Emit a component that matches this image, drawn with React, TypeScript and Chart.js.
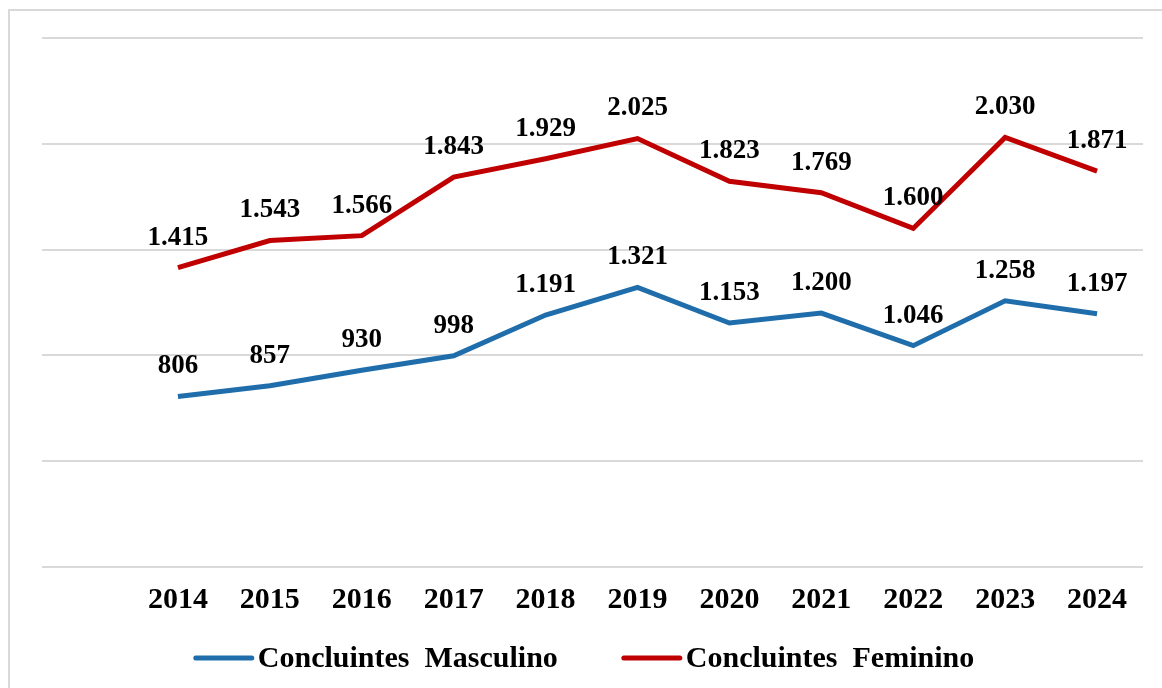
import React, { useEffect, useRef } from "react";
import { Chart, registerables } from "chart.js";

Chart.register(...registerables);

const years: string[] = ["2014", "2015", "2016", "2017", "2018", "2019", "2020", "2021", "2022", "2023", "2024"];
const masculino: number[] = [806, 857, 930, 998, 1191, 1321, 1153, 1200, 1046, 1258, 1197];
const feminino: number[] = [1415, 1543, 1566, 1843, 1929, 2025, 1823, 1769, 1600, 2030, 1871];
const seriesNames: string[] = ["Concluintes  Masculino", "Concluintes  Feminino"];
const seriesColors: string[] = ["#1F6EAB", "#C00000"];

const FONT = "'Liberation Serif', 'Times New Roman', serif";

function fmt(v: number): string {
  return String(Math.round(v)).replace(/\B(?=(\d{3})+(?!\d))/g, ".");
}

const dataLabelPlugin = {
  id: "dataLabels",
  afterDatasetsDraw(chart: any) {
    const ctx = chart.ctx;
    ctx.save();
    ctx.font = `bold 27px ${FONT}`;
    ctx.fillStyle = "#000000";
    ctx.textAlign = "center";
    ctx.textBaseline = "middle";
    chart.data.datasets.forEach((ds: any, di: number) => {
      const meta = chart.getDatasetMeta(di);
      meta.data.forEach((pt: any, i: number) => {
        ctx.fillText(fmt(ds.data[i]), pt.x, pt.y - 30);
      });
    });
    ctx.restore();
  },
};

// Legend drawn beneath the x axis, from the datasets' labels and colours
const bottomLegendPlugin = {
  id: "bottomLegend",
  afterDraw(chart: any) {
    const ctx = chart.ctx;
    const sampleW = 60;
    const sampleGap = 4;
    const itemGap = 64;
    const centerX = 584;
    const y = 659;
    ctx.save();
    ctx.font = `bold 30px ${FONT}`;
    const items = chart.data.datasets.map((ds: any) => ({
      text: ds.label as string,
      color: ds.borderColor as string,
      w: sampleW + sampleGap + ctx.measureText(ds.label).width,
    }));
    const total = items.reduce((s: number, it: any) => s + it.w, 0) + itemGap * (items.length - 1);
    let x = centerX - total / 2;
    items.forEach((it: any) => {
      ctx.strokeStyle = it.color;
      ctx.lineWidth = 5;
      ctx.lineCap = "round";
      ctx.beginPath();
      ctx.moveTo(x + 2, y - 1);
      ctx.lineTo(x + sampleW - 2, y - 1);
      ctx.stroke();
      ctx.fillStyle = "#000000";
      ctx.textAlign = "left";
      ctx.textBaseline = "middle";
      ctx.fillText(it.text, x + sampleW + sampleGap, y);
      x += it.w + itemGap;
    });
    ctx.restore();
  },
};

export default function App() {
  const canvasRef = useRef<HTMLCanvasElement | null>(null);

  useEffect(() => {
    if (!canvasRef.current) return;
    const chart = new Chart(canvasRef.current, {
      type: "line",
      data: {
        labels: years,
        datasets: [
          {
            label: seriesNames[0],
            data: masculino,
            borderColor: seriesColors[0],
            backgroundColor: seriesColors[0],
            borderWidth: 5,
            pointRadius: 0,
            tension: 0,
          },
          {
            label: seriesNames[1],
            data: feminino,
            borderColor: seriesColors[1],
            backgroundColor: seriesColors[1],
            borderWidth: 5,
            pointRadius: 0,
            tension: 0,
          },
        ],
      },
      options: {
        animation: false,
        responsive: false,
        maintainAspectRatio: false,
        layout: { padding: { left: 42, right: 19, top: 38, bottom: 63 } },
        plugins: {
          tooltip: { enabled: false },
          legend: { display: false },
        },
        scales: {
          x: {
            offset: true,
            grid: { display: false },
            border: { display: false },
            ticks: {
              color: "#000000",
              font: { family: FONT, size: 30, weight: "bold" },
              padding: 7,
              maxRotation: 0,
              autoSkip: false,
            },
          },
          y: {
            min: 0,
            max: 2500,
            ticks: { display: false, stepSize: 500 },
            border: { display: false },
            grid: {
              color: "#d9d9d9",
              lineWidth: 2,
              drawTicks: true,
              tickLength: 90,
            },
          },
        },
      },
      plugins: [dataLabelPlugin, bottomLegendPlugin],
    });
    return () => chart.destroy();
  }, []);

  return (
    <div style={{ position: "fixed", left: 0, top: 0, width: 1162, height: 688, background: "#ffffff" }}>
      <div
        style={{
          position: "absolute",
          left: 8,
          top: 9,
          right: 0,
          bottom: 0,
          borderLeft: "2px solid #d9d9d9",
          borderTop: "2px solid #d9d9d9",
        }}
      />
      <canvas
        ref={canvasRef}
        width={1162}
        height={688}
        style={{ position: "absolute", left: 0, top: 0, width: 1162, height: 688 }}
      />
    </div>
  );
}
